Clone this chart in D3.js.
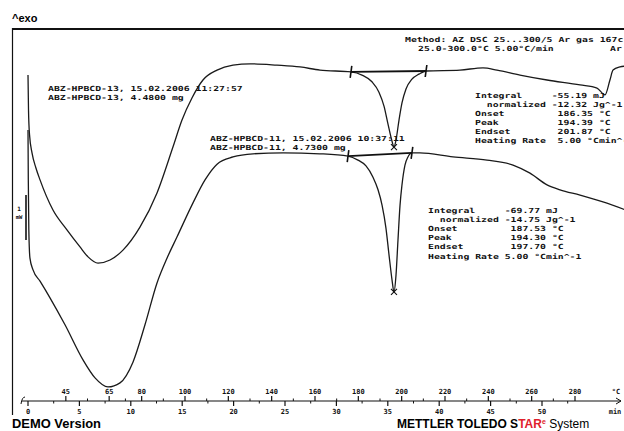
<!DOCTYPE html>
<html>
<head>
<meta charset="utf-8">
<script src="https://d3js.org/d3.v7.min.js"></script>
<style>
  body { margin: 0; background: #fff; }
  svg { display: block; }
  .mono { font-family: "DejaVu Sans Mono", monospace; font-weight: bold; font-size: 7px; fill: #111; white-space: pre; }
</style>
</head>
<body>
<div id="chart"></div>
<script>
// sample ABZ-HPBCD-13 (upper curve): time in min, heat flow in mW
var upperTime = [0, 0.05, 0.15, 0.39, 0.78, 1.17, 2.43, 3.79, 5.06, 5.84, 6.81, 7.98, 9.24, 10.89, 12.55, 14.1, 14.98, 15.95, 17.02, 18.39, 19.94, 21.6, 24.22, 26.46, 28.4,
  31.42, 32.49, 33.46, 34.14, 34.63, 35.02, 35.41, 35.6, 35.8, 36.09, 36.38, 36.77, 37.35, 38.03, 38.72,
  42.02, 44.26, 45.62, 47.86, 50.49, 53.7, 55.35, 56.13, 56.61, 56.91, 57.59, 58.17];
var upperHF = [-0.89, -1.67, -2.22, -2.62, -2.96, -3.22, -3.89, -4.33, -4.71, -4.93, -5.07, -5.0, -4.78, -4.27, -3.51, -2.49, -1.89, -1.4, -1.0, -0.78, -0.67, -0.64, -0.67, -0.71, -0.78,
  -0.82, -0.89, -1.04, -1.27, -1.58, -1.98, -2.36, -2.49, -2.33, -1.89, -1.51, -1.2, -0.98, -0.87, -0.8,
  -0.78, -0.73, -0.78, -0.89, -1.0, -1.11, -1.18, -1.33, -1.0, -0.78, -0.71, -0.69];

// sample ABZ-HPBCD-11 (lower curve)
var lowerTime = [0, 0.03, 0.08, 0.19, 0.49, 1.17, 2.14, 3.6, 5.35, 6.52, 7.78, 8.95, 10.21, 11.38, 12.55, 13.52, 14.49, 16.05, 17.22, 18.39, 19.94, 21.89, 24.81, 28.4,
  31.13, 32.1, 32.88, 33.56, 34.05, 34.44, 34.82, 35.12, 35.41, 35.6, 35.8, 35.99, 36.19, 36.38, 36.67, 36.96, 37.35,
  38.13, 41.34, 44.65, 47.18, 48.83, 50.49, 51.75, 53.7, 55.93, 58.17];
var lowerHF = [-2.11, -3.22, -4.33, -4.96, -5.22, -5.47, -5.84, -6.44, -7.22, -7.62, -7.82, -7.73, -7.27, -6.44, -5.51, -4.96, -4.49, -3.73, -3.22, -2.87, -2.71, -2.64, -2.62, -2.64,
  -2.69, -2.78, -2.91, -3.16, -3.44, -3.78, -4.29, -4.89, -5.44, -5.71, -5.33, -4.56, -3.78, -3.33, -2.89, -2.71, -2.62,
  -2.62, -2.71, -2.78, -2.89, -3.07, -3.33, -3.44, -3.56, -3.71, -3.89];

// integration limits and peak points
var upperLimitTime = [31.42, 38.72], upperLimitHF = [-0.82, -0.80];
var lowerLimitTime = [31.13, 37.35], lowerLimitHF = [-2.69, -2.62];
var peakTime = [35.6, 35.6], peakHF = [-2.49, -5.71];

// axis labels
var timeTicks = [0, 5, 10, 15, 20, 25, 30, 35, 40, 45, 50];
var tempTicks = [45, 65, 80, 100, 120, 140, 160, 180, 200, 220, 240, 260, 280];

var headerUpper = ["ABZ-HPBCD-13, 15.02.2006 11:27:57", "ABZ-HPBCD-13, 4.4800 mg"];
var headerLower = ["ABZ-HPBCD-11, 15.02.2006 10:37:11", "ABZ-HPBCD-11, 4.7300 mg"];
var methodLines = ["Method: AZ DSC 25...300/5 Ar gas 167c", "25.0-300.0°C 5.00°C/min"];
var resultsUpper = ["Integral     -55.19 mJ", "  normalized -12.32 Jg^-1", "Onset         186.35 °C",
  "Peak          194.39 °C", "Endset        201.87 °C", "Heating Rate  5.00 °Cmin^-1"];
var resultsLower = ["Integral     -69.77 mJ", "  normalized -14.75 Jg^-1", "Onset         187.53 °C",
  "Peak          194.30 °C", "Endset        197.70 °C", "Heating Rate 5.00 °Cmin^-1"];

var W = 624, H = 431;
var svg = d3.select("#chart").append("svg").attr("width", W).attr("height", H);

var x = d3.scaleLinear().domain([0, 50]).range([28, 542]);
var xT = d3.scaleLinear().domain([100, 280]).range([185, 575]);
var y = d3.scaleLinear().domain([0, -8]).range([35, 395]);

// frame
svg.append("line").attr("x1", 12).attr("x2", W).attr("y1", 29).attr("y2", 29)
  .attr("stroke", "#111").attr("stroke-width", 2.2);
svg.append("line").attr("x1", 12.5).attr("x2", 12.5).attr("y1", 28).attr("y2", 415)
  .attr("stroke", "#111").attr("stroke-width", 1.2);

svg.append("text").attr("x", 12).attr("y", 22).text("^exo")
  .style("font-family", "Liberation Sans, Arial").style("font-weight", "bold").style("font-size", "11px");

// scale bar
svg.append("line").attr("x1", 26).attr("x2", 26).attr("y1", 195).attr("y2", 240)
  .attr("stroke", "#111").attr("stroke-width", 1.6);
svg.append("text").attr("class", "mono").attr("x", 19).attr("y", 211).attr("text-anchor", "middle").text("1").style("font-size", "6px");
svg.append("text").attr("class", "mono").attr("x", 19).attr("y", 219).attr("text-anchor", "middle").text("mW").style("font-size", "5.5px");

// curves
var line = d3.line().x(function (d) { return x(d[0]); }).y(function (d) { return y(d[1]); })
  .curve(d3.curveMonotoneX);
[[upperTime, upperHF], [lowerTime, lowerHF]].forEach(function (c) {
  svg.append("path").datum(d3.zip(c[0], c[1])).attr("d", line)
    .attr("fill", "none").attr("stroke", "#1a1a1a").attr("stroke-width", 1.3);
});

// integration baselines and limit ticks
[[upperLimitTime, upperLimitHF], [lowerLimitTime, lowerLimitHF]].forEach(function (c) {
  var pts = d3.zip(c[0], c[1]);
  svg.append("line").attr("x1", x(pts[0][0])).attr("y1", y(pts[0][1]))
    .attr("x2", x(pts[1][0])).attr("y2", y(pts[1][1]))
    .attr("stroke", "#111").attr("stroke-width", 1.8);
  pts.forEach(function (p) {
    svg.append("line").attr("x1", x(p[0]) - 0.8).attr("x2", x(p[0]) + 0.8)
      .attr("y1", y(p[1]) + 6).attr("y2", y(p[1]) - 6)
      .attr("stroke", "#111").attr("stroke-width", 1.6);
  });
});

// peak crosses
d3.zip(peakTime, peakHF).forEach(function (p) {
  var cx = x(p[0]), cy = y(p[1]);
  svg.append("path").attr("d", "M" + (cx - 3) + "," + (cy - 3) + "L" + (cx + 3) + "," + (cy + 3) +
    "M" + (cx + 3) + "," + (cy - 3) + "L" + (cx - 3) + "," + (cy + 3))
    .attr("stroke", "#111").attr("stroke-width", 1.1);
});

// text helper
function mono(str, x0, yc, cw) {
  svg.append("text").attr("class", "mono").attr("x", x0).attr("y", yc + 2.5)
    .attr("textLength", str.length * (cw || 5.9)).attr("lengthAdjust", "spacingAndGlyphs")
    .text(str);
}
headerUpper.forEach(function (s, i) { mono(s, 48, 88 + i * 9); });
headerLower.forEach(function (s, i) { mono(s, 210, 138 + i * 9); });
mono(methodLines[0], 405, 39);
mono(methodLines[1], 418, 48);
mono("Ar", 610, 48);
resultsUpper.forEach(function (s, i) { mono(s, 475, 95 + i * 9); });
resultsLower.forEach(function (s, i) { mono(s, 428, 210 + i * 9.2); });

// combined temperature / time axis
var ay = 401;
var ax = svg.append("g").attr("stroke", "#111").attr("fill", "none");
ax.append("line").attr("x1", 22).attr("x2", 621).attr("y1", ay).attr("y2", ay).attr("stroke-width", 1.2);
ax.append("path").attr("d", "M21," + (ay + 3) + "Q22," + (ay - 4) + " 25," + (ay - 4)).attr("stroke-width", 1);
ax.append("path").attr("d", "M616," + (ay - 3) + "L621," + ay + "L616," + (ay + 3)).attr("stroke-width", 1);

tempTicks.forEach(function (t, i) {
  ax.append("line").attr("x1", xT(t)).attr("x2", xT(t)).attr("y1", ay).attr("y2", ay - 5).attr("stroke-width", 1.2);
  if (i < tempTicks.length - 1) {
    var m = (tempTicks[i] + tempTicks[i + 1]) / 2;
    ax.append("line").attr("x1", xT(m)).attr("x2", xT(m)).attr("y1", ay).attr("y2", ay - 2.5).attr("stroke-width", 1);
  }
});
timeTicks.forEach(function (t) {
  ax.append("line").attr("x1", x(t)).attr("x2", x(t)).attr("y1", ay).attr("y2", ay + 5).attr("stroke-width", 1.2);
  ax.append("line").attr("x1", x(t + 2.5)).attr("x2", x(t + 2.5)).attr("y1", ay).attr("y2", ay + 2.5).attr("stroke-width", 1);
});

tempTicks.forEach(function (t) {
  svg.append("text").attr("class", "mono").attr("x", xT(t)).attr("y", 393.5)
    .attr("text-anchor", "middle").text(t);
});
svg.append("text").attr("class", "mono").attr("x", 616).attr("y", 393.5).attr("text-anchor", "middle").text("°C");
timeTicks.forEach(function (t) {
  svg.append("text").attr("class", "mono").attr("x", x(t)).attr("y", 413.5)
    .attr("text-anchor", "middle").text(t);
});
svg.append("text").attr("class", "mono").attr("x", 615).attr("y", 413.5).attr("text-anchor", "middle").text("min");

// footer
svg.append("text").attr("x", 12).attr("y", 428).text("DEMO Version")
  .style("font-family", "Liberation Sans, Arial").style("font-weight", "bold").style("font-size", "12px")
  .attr("textLength", 89).attr("lengthAdjust", "spacingAndGlyphs");
var brand = svg.append("text").attr("x", 397).attr("y", 428)
  .style("font-family", "Liberation Sans, Arial").style("font-size", "12px");
brand.append("tspan").text("METTLER  TOLEDO  ").style("font-weight", "bold");
brand.append("tspan").text("S").style("font-weight", "bold");
brand.append("tspan").text("TAR").style("font-weight", "bold").attr("fill", "#e0212b");
brand.append("tspan").text("e").attr("fill", "#e0212b").attr("dy", -4).style("font-size", "7px").style("font-weight", "bold");
brand.append("tspan").text(" System").attr("dy", 4);
</script>
</body>
</html>
